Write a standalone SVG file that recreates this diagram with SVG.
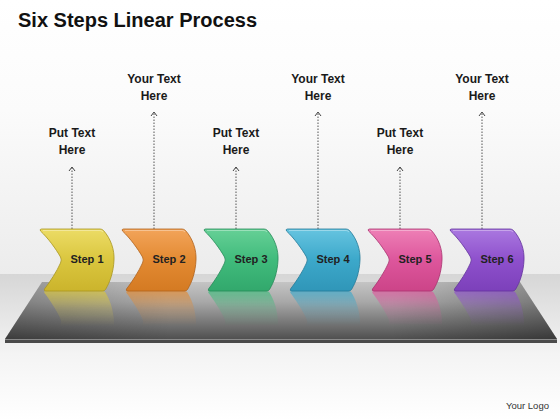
<svg xmlns="http://www.w3.org/2000/svg" xmlns:xlink="http://www.w3.org/1999/xlink" width="560" height="420" viewBox="0 0 560 420">
<defs>
<style>
.title{font-family:"Liberation Sans",Arial,sans-serif;font-weight:bold;font-size:20px;fill:#111}
.lbl{font-family:"Liberation Sans",Arial,sans-serif;font-weight:bold;font-size:12px;fill:#1a1a1a;text-anchor:middle}
.step{font-family:"Liberation Sans",Arial,sans-serif;font-weight:bold;font-size:11px;fill:#222;text-anchor:middle}
.logo{font-family:"Liberation Sans",Arial,sans-serif;font-size:9.5px;fill:#333}
.conn{stroke:#555;stroke-width:1;stroke-dasharray:1.5 1.5;fill:none;marker-end:url(#arr)}
.gloss{fill:none;stroke:#fff;stroke-opacity:0.35;stroke-width:1.2}
</style>
<marker id="arr" viewBox="-6 -5 8 10" refX="0" refY="0" markerWidth="8" markerHeight="10" markerUnits="userSpaceOnUse" orient="auto" overflow="visible">
<path d="M-4,-3 L0,0 L-4,3" fill="none" stroke="#444" stroke-width="1"/>
</marker>
<path id="chev" d="M1.5,0 L60,0 Q62,0 63.5,1.5 C71,10 74.5,21 74,31 C73.5,43 70,53 65.5,60.5 Q64.5,62 62.5,62 L6,62 Q3.5,62 4.5,60 C10,53 17,42 20.5,34 Q22,31 20.5,28 C16,20 8,9 0.5,2 Q-0.5,0 1.5,0 Z"/>
<path id="glossp" d="M3,1.5 L60,1.5 Q62,1.5 63,3"/>
<linearGradient id="bg" x1="0" y1="0" x2="0" y2="1">
<stop offset="0" stop-color="#ffffff"/><stop offset="0.4" stop-color="#fbfbfb"/><stop offset="1" stop-color="#ececec"/>
</linearGradient>
<linearGradient id="floor" x1="0" y1="0" x2="0" y2="1">
<stop offset="0" stop-color="#d6d6d6"/><stop offset="0.55" stop-color="#f4f4f4"/><stop offset="1" stop-color="#ffffff"/>
</linearGradient>
<linearGradient id="plat" x1="0" y1="0" x2="0" y2="1">
<stop offset="0" stop-color="#c4c4c4"/><stop offset="0.35" stop-color="#a8a8a8"/><stop offset="1" stop-color="#505050"/>
</linearGradient>
<linearGradient id="platside" x1="0" y1="0" x2="1" y2="0">
<stop offset="0" stop-color="#000" stop-opacity="0.25"/><stop offset="0.3" stop-color="#000" stop-opacity="0"/><stop offset="0.7" stop-color="#000" stop-opacity="0"/><stop offset="1" stop-color="#000" stop-opacity="0.3"/>
</linearGradient>
<linearGradient id="fadeG" gradientUnits="userSpaceOnUse" x1="0" y1="291" x2="0" y2="326">
<stop offset="0" stop-color="#fff" stop-opacity="0.7"/><stop offset="0.5" stop-color="#fff" stop-opacity="0.25"/><stop offset="1" stop-color="#fff" stop-opacity="0"/>
</linearGradient>
<mask id="fade" maskUnits="userSpaceOnUse" x="0" y="285" width="560" height="60">
<rect x="0" y="285" width="560" height="60" fill="url(#fadeG)"/>
</mask>
<linearGradient id="g1" x1="0" y1="0" x2="0" y2="1"><stop offset="0" stop-color="#ecdc66"/><stop offset="0.5" stop-color="#dac63e"/><stop offset="1" stop-color="#cbb42c"/></linearGradient>
<linearGradient id="g2" x1="0" y1="0" x2="0" y2="1"><stop offset="0" stop-color="#f2a45a"/><stop offset="0.5" stop-color="#e38a32"/><stop offset="1" stop-color="#d47a22"/></linearGradient>
<linearGradient id="g3" x1="0" y1="0" x2="0" y2="1"><stop offset="0" stop-color="#66d096"/><stop offset="0.5" stop-color="#40bb7c"/><stop offset="1" stop-color="#32a86c"/></linearGradient>
<linearGradient id="g4" x1="0" y1="0" x2="0" y2="1"><stop offset="0" stop-color="#66c4e0"/><stop offset="0.5" stop-color="#3ca8ca"/><stop offset="1" stop-color="#3096b8"/></linearGradient>
<linearGradient id="g5" x1="0" y1="0" x2="0" y2="1"><stop offset="0" stop-color="#ee80b6"/><stop offset="0.5" stop-color="#dd569c"/><stop offset="1" stop-color="#cc4488"/></linearGradient>
<linearGradient id="g6" x1="0" y1="0" x2="0" y2="1"><stop offset="0" stop-color="#aa78e0"/><stop offset="0.5" stop-color="#8e50cc"/><stop offset="1" stop-color="#7c40ba"/></linearGradient>
</defs>

<rect x="0" y="0" width="560" height="275" fill="url(#bg)"/>
<rect x="0" y="274" width="560" height="146" fill="url(#floor)"/>

<g id="platform">
<polygon points="42,282 520,282 557,339 5,339" fill="url(#plat)"/>
<polygon points="42,282 520,282 557,339 5,339" fill="url(#platside)"/>
<polygon points="5,339 557,339 557,343 5,343" fill="#4a4a4a"/>
<line x1="5" y1="339.5" x2="557" y2="339.5" stroke="#8a8a8a" stroke-width="1"/>
</g>

<text class="title" x="18" y="27">Six Steps Linear Process</text>

<g id="connectors">
<line class="conn" x1="72" y1="229" x2="72" y2="167"/>
<line class="conn" x1="154" y1="229" x2="154" y2="112"/>
<line class="conn" x1="236" y1="229" x2="236" y2="167"/>
<line class="conn" x1="318" y1="229" x2="318" y2="112"/>
<line class="conn" x1="400" y1="229" x2="400" y2="167"/>
<line class="conn" x1="482" y1="229" x2="482" y2="112"/>
</g>

<g id="label1"><text class="lbl" x="72" y="137">Put Text</text><text class="lbl" x="72" y="154">Here</text></g>
<g id="label2"><text class="lbl" x="154" y="83">Your Text</text><text class="lbl" x="154" y="100">Here</text></g>
<g id="label3"><text class="lbl" x="236" y="137">Put Text</text><text class="lbl" x="236" y="154">Here</text></g>
<g id="label4"><text class="lbl" x="318" y="83">Your Text</text><text class="lbl" x="318" y="100">Here</text></g>
<g id="label5"><text class="lbl" x="400" y="137">Put Text</text><text class="lbl" x="400" y="154">Here</text></g>
<g id="label6"><text class="lbl" x="482" y="83">Your Text</text><text class="lbl" x="482" y="100">Here</text></g>

<g id="step1">
<g mask="url(#fade)"><use xlink:href="#chev" href="#chev" transform="matrix(1,0,0,-1,40,353)" fill="#dac63e"/></g>
<use xlink:href="#chev" href="#chev" x="40" y="229" fill="url(#g1)" stroke="#a89520" stroke-width="0.8"/>
<use xlink:href="#glossp" href="#glossp" x="40" y="229" class="gloss"/>
<text class="step" x="87" y="263">Step 1</text>
</g>
<g id="step2">
<g mask="url(#fade)"><use xlink:href="#chev" href="#chev" transform="matrix(1,0,0,-1,122,353)" fill="#e38a32"/></g>
<use xlink:href="#chev" href="#chev" x="122" y="229" fill="url(#g2)" stroke="#b0621c" stroke-width="0.8"/>
<use xlink:href="#glossp" href="#glossp" x="122" y="229" class="gloss"/>
<text class="step" x="169" y="263">Step 2</text>
</g>
<g id="step3">
<g mask="url(#fade)"><use xlink:href="#chev" href="#chev" transform="matrix(1,0,0,-1,204,353)" fill="#40bb7c"/></g>
<use xlink:href="#chev" href="#chev" x="204" y="229" fill="url(#g3)" stroke="#268a58" stroke-width="0.8"/>
<use xlink:href="#glossp" href="#glossp" x="204" y="229" class="gloss"/>
<text class="step" x="251" y="263">Step 3</text>
</g>
<g id="step4">
<g mask="url(#fade)"><use xlink:href="#chev" href="#chev" transform="matrix(1,0,0,-1,286,353)" fill="#3ca8ca"/></g>
<use xlink:href="#chev" href="#chev" x="286" y="229" fill="url(#g4)" stroke="#247a98" stroke-width="0.8"/>
<use xlink:href="#glossp" href="#glossp" x="286" y="229" class="gloss"/>
<text class="step" x="333" y="263">Step 4</text>
</g>
<g id="step5">
<g mask="url(#fade)"><use xlink:href="#chev" href="#chev" transform="matrix(1,0,0,-1,368,353)" fill="#dd569c"/></g>
<use xlink:href="#chev" href="#chev" x="368" y="229" fill="url(#g5)" stroke="#a8326e" stroke-width="0.8"/>
<use xlink:href="#glossp" href="#glossp" x="368" y="229" class="gloss"/>
<text class="step" x="415" y="263">Step 5</text>
</g>
<g id="step6">
<g mask="url(#fade)"><use xlink:href="#chev" href="#chev" transform="matrix(1,0,0,-1,450,353)" fill="#8e50cc"/></g>
<use xlink:href="#chev" href="#chev" x="450" y="229" fill="url(#g6)" stroke="#62329c" stroke-width="0.8"/>
<use xlink:href="#glossp" href="#glossp" x="450" y="229" class="gloss"/>
<text class="step" x="497" y="263">Step 6</text>
</g>

<text class="logo" x="506" y="409">Your Logo</text>
</svg>
